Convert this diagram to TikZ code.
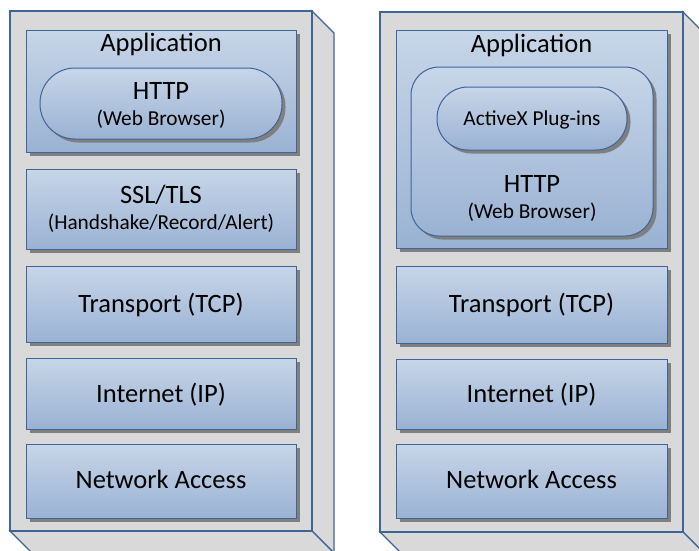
\documentclass[tikz,border=0pt]{standalone}
\usepackage{fontspec}
\setmainfont{Carlito}
\usetikzlibrary{shadows}
\definecolor{boxgray}{HTML}{D9D9D9}
\definecolor{edgeblue}{HTML}{3E6597}
\definecolor{topblue}{HTML}{C7D6E8}
\definecolor{botblue}{HTML}{9AB2D3}
\definecolor{shadowgray}{HTML}{7F7F7F}
\tikzset{
  outerbox/.style={fill=boxgray, draw=edgeblue, line width=1.1pt, line join=miter},
  layer/.style={rectangle, draw=edgeblue, line width=1pt, top color=topblue, bottom color=botblue,
     inner sep=0pt, drop shadow={shadow xshift=3.5pt, shadow yshift=-3.5pt, fill=shadowgray, opacity=1}},
  pill/.style={layer, rounded corners=#1},
  bigtxt/.style={anchor=base, inner sep=0pt, font=\fontsize{26.5}{30}\selectfont},
  smalltxt/.style={anchor=base, inner sep=0pt, font=\fontsize{21.3}{25}\selectfont},
}
\begin{document}
\begin{tikzpicture}[x=1pt,y=-1pt]
\useasboundingbox (0,0) rectangle (699,550);
% ---------- left 3D box ----------
\begin{scope}
\clip (0,0) rectangle (699,550);
\draw[outerbox] (312,11) -- (334,33) -- (334,553) -- (312,531) -- cycle;
\draw[outerbox] (10,531) -- (312,531) -- (334,553) -- (32,553) -- cycle;
\draw[outerbox] (10,11) rectangle (312,531);
% ---------- right 3D box ----------
\draw[outerbox] (683,12) -- (705,34) -- (705,554) -- (683,532) -- cycle;
\draw[outerbox] (380,532) -- (683,532) -- (705,554) -- (402,554) -- cycle;
\draw[outerbox] (380,12) rectangle (683,532);
\end{scope}
% ---------- left stack ----------
\node[layer, minimum width=270pt, minimum height=122pt] (appL) at (161,91) {};
\node[bigtxt] (appLt) at (161,51) {Application};
\node[pill=35pt, minimum width=242pt, minimum height=71pt] (httpL) at (161,103.5) {};
\node[bigtxt] (httpLt) at (161,99) {HTTP};
\node[smalltxt] (webLt) at (161,125) {(Web Browser)};
\node[layer, minimum width=270pt, minimum height=80pt] (sslL) at (161,209) {};
\node[bigtxt] (sslLt) at (161,203) {SSL/TLS};
\node[smalltxt] (hsLt) at (161,229) {(Handshake/Record/Alert)};
\node[layer, minimum width=270pt, minimum height=76pt] (tcpL) at (161,304) {};
\node[bigtxt] (tcpLt) at (161,312) {Transport (TCP)};
\node[layer, minimum width=270pt, minimum height=71pt] (ipL) at (161,393.5) {};
\node[bigtxt] (ipLt) at (161,402) {Internet (IP)};
\node[layer, minimum width=270pt, minimum height=74pt] (naL) at (161,481) {};
\node[bigtxt] (naLt) at (161,488) {Network Access};
% ---------- right stack ----------
\node[layer, minimum width=271pt, minimum height=218pt] (appR) at (531.5,139) {};
\node[bigtxt] (appRt) at (531.5,52) {Application};
\node[pill=28pt, minimum width=242pt, minimum height=169pt] (httpR) at (532,151.5) {};
\node[pill=31pt, minimum width=190pt, minimum height=63pt] (axR) at (532,118.5) {};
\node[smalltxt] (axRt) at (532,125) {ActiveX Plug-ins};
\node[bigtxt] (httpRt) at (532,192) {HTTP};
\node[smalltxt] (webRt) at (532,218) {(Web Browser)};
\node[layer, minimum width=271pt, minimum height=77pt] (tcpR) at (531.5,304.5) {};
\node[bigtxt] (tcpRt) at (531.5,312) {Transport (TCP)};
\node[layer, minimum width=271pt, minimum height=70pt] (ipR) at (531.5,394) {};
\node[bigtxt] (ipRt) at (531.5,402) {Internet (IP)};
\node[layer, minimum width=271pt, minimum height=74pt] (naR) at (531.5,481) {};
\node[bigtxt] (naRt) at (531.5,488) {Network Access};
\end{tikzpicture}
\end{document}
